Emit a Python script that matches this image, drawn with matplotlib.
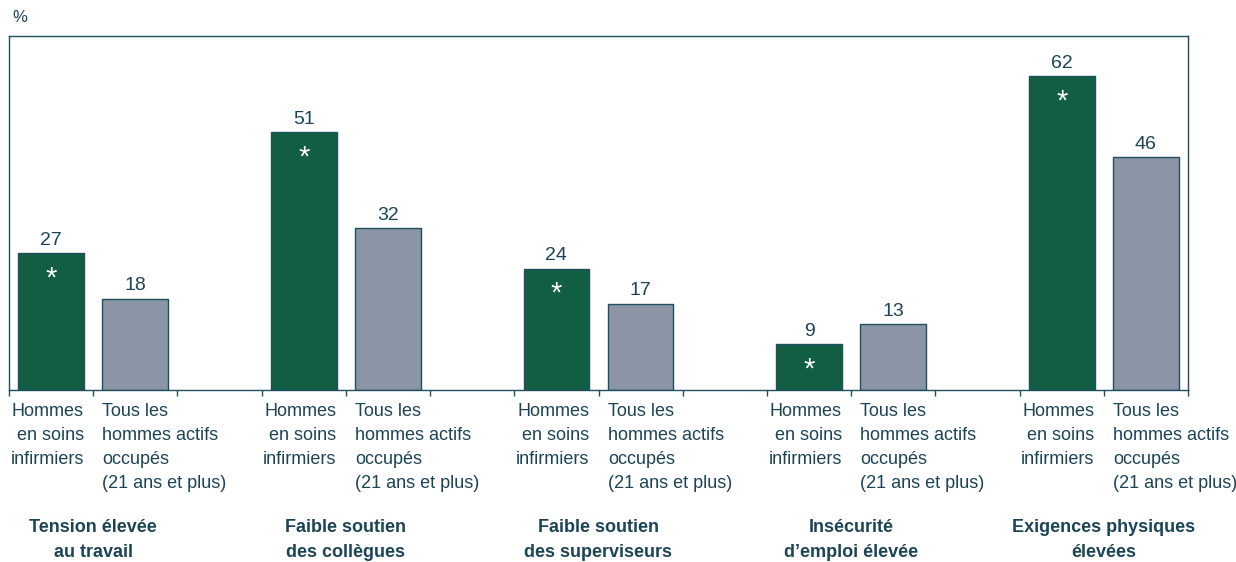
import numpy as np
import matplotlib.pyplot as plt
from matplotlib import font_manager

# font: condensed sans if available
names = {f.name for f in font_manager.fontManager.ttflist}
fam = 'Liberation Sans Narrow' if 'Liberation Sans Narrow' in names else 'Liberation Sans'
plt.rcParams['font.family'] = [fam, 'DejaVu Sans']

# data
groups = ['Tension élevée\nau travail', 'Faible soutien\ndes collègues',
          'Faible soutien\ndes superviseurs', 'Insécurité\nd\u2019emploi élevée',
          'Exigences physiques\nélevées']
nurses = [27, 51, 24, 9, 62]
all_men = [18, 32, 17, 13, 46]
signif = [True, True, True, True, True]
lab_nurses = 'Hommes\nen soins\ninfirmiers'
lab_all = 'Tous les\nhommes actifs\noccupés\n(21 ans et plus)'

green = '#115e43'
grey = '#8c95a5'
edge = '#1f4e5f'
txt = '#1b4457'

fig = plt.figure(figsize=(12.36, 5.62), dpi=100)
ax = fig.add_axes([9 / 1236, 1 - 390 / 562, 1179 / 1236, 354 / 562])

x1 = np.arange(len(groups)) * 3
x2 = x1 + 1
w = 0.78
ax.bar(x1, nurses, w, color=green, edgecolor=edge, linewidth=1)
ax.bar(x2, all_men, w, color=grey, edgecolor=edge, linewidth=1)

for i in range(len(groups)):
    ax.text(x1[i], nurses[i] + 0.9, str(nurses[i]), ha='center', va='bottom',
            fontsize=14, color=txt)
    ax.text(x2[i], all_men[i] + 0.9, str(all_men[i]), ha='center', va='bottom',
            fontsize=14, color=txt)
    if signif[i]:
        ax.text(x1[i], nurses[i] - 5.0, '*', ha='center', va='center',
                fontsize=21, color='white')
    ax.text(x1[i] + w / 2, -2.5, lab_nurses, ha='right', va='top', ma='right',
            fontsize=13, color=txt, linespacing=1.55)
    ax.text(x2[i] - w / 2, -2.5, lab_all, ha='left', va='top', ma='left',
            fontsize=13, color=txt, linespacing=1.55)
    ax.text(x1[i] + 0.5, -25.6, groups[i], ha='center', va='top',
            fontsize=13, color=txt, fontweight='bold', linespacing=1.55)

ax.set_xlim(-0.5, 13.5)
ax.set_ylim(0, 70)
ax.set_xticks(np.arange(-0.5, 13.6, 1))
ax.set_xticklabels([])
ax.set_yticks([])
ax.tick_params(axis='x', length=4, width=1, color=edge, direction='out')
for s in ax.spines.values():
    s.set_color(edge)
    s.set_linewidth(1)

fig.text(12 / 1236, 1 - 18 / 562, '%', ha='left', va='center', fontsize=12, color=txt)

fig.savefig('out.png', dpi=100)
